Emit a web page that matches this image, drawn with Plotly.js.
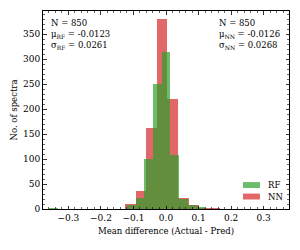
<!DOCTYPE html>
<html>
<head>
<meta charset="utf-8">
<script src="https://cdn.plot.ly/plotly-3.0.1.min.js"></script>
<style>html,body{margin:0;padding:0;background:#fff}#chart{width:300px;height:250px}</style>
</head>
<body>
<div id="chart"></div>
<script>
// RF histogram: bin centers and counts (bin width ~0.0267)
const rfCenters = [-0.3467, -0.1598, -0.1064, -0.0797, -0.0530, -0.0263, 0.0004, 0.0271, 0.0538, 0.0805, 0.1072];
const rfCounts  = [3, 1, 9, 22, 100, 250, 315, 108, 21, 9, 5];
const rfBinWidth = 0.0267;
// NN histogram: bin centers and counts (bin width ~0.0326)
const nnCenters = [-0.2403, -0.1425, -0.1099, -0.0773, -0.0447, -0.0121, 0.0205, 0.0531, 0.0857, 0.1183, 0.1509];
const nnCounts  = [1, 1, 11, 36, 163, 380, 220, 23, 8, 3, 2];
const nnBinWidth = 0.0326;
const seriesNames = ["RF", "NN"];
const statsRF = {n: 850, mu: "-0.0123", sigma: "0.0261"};
const statsNN = {n: 850, mu: "-0.0126", sigma: "0.0268"};

const rfColor = "rgba(44,160,44,0.7)";
const nnColor = "rgba(214,39,40,0.7)";
const font = {family: "DejaVu Serif", size: 8.5, color: "#000"};
const tickFont = {family: "DejaVu Serif", size: 9, color: "#000"};

const traces = [
  {type: "bar", name: seriesNames[1], x: nnCenters, y: nnCounts, width: nnBinWidth,
   marker: {color: nnColor, line: {width: 0}}},
  {type: "bar", name: seriesNames[0], x: rfCenters, y: rfCounts, width: rfBinWidth,
   marker: {color: rfColor, line: {width: 0}}}
];

const axisCommon = {
  showline: true, mirror: "ticks", linecolor: "#000", linewidth: 1,
  ticks: "inside", ticklen: 3.5, tickwidth: 0.8, tickcolor: "#000",
  showgrid: false, zeroline: false, tickfont: tickFont
};

// legend drawn as paper-positioned patches + labels
const legendItems = [
  {name: seriesNames[0], color: rfColor, y0: 0.106, y1: 0.136, ty: 0.121},
  {name: seriesNames[1], color: nnColor, y0: 0.048, y1: 0.078, ty: 0.063}
];

const layout = {
  width: 300, height: 250,
  margin: {l: 43, r: 11, t: 11, b: 41},
  paper_bgcolor: "#fff", plot_bgcolor: "#fff",
  font: font,
  barmode: "overlay", bargap: 0,
  showlegend: false,
  xaxis: Object.assign({}, axisCommon, {
    range: [-0.378, 0.378], dtick: 0.1, tick0: 0, tickformat: ".1f",
    minor: {dtick: 0.02, ticks: "inside", ticklen: 2, tickwidth: 0.6, tickcolor: "#000"},
    title: {text: "Mean difference (Actual - Pred)", font: font, standoff: 6}
  }),
  yaxis: Object.assign({}, axisCommon, {
    range: [0, 396], dtick: 50, tick0: 0,
    minor: {dtick: 10, ticks: "inside", ticklen: 2, tickwidth: 0.6, tickcolor: "#000"},
    title: {text: "No. of spectra", font: font, standoff: 4}
  }),
  shapes: legendItems.map(it => ({
    type: "rect", xref: "paper", yref: "paper", x0: 0.813, x1: 0.882, y0: it.y0, y1: it.y1,
    fillcolor: it.color, line: {width: 0}
  })),
  annotations: [
    {xref: "paper", yref: "paper", x: 0.025, y: 0.975, xanchor: "left", yanchor: "top", align: "left",
     showarrow: false, font: font,
     text: "N = " + statsRF.n + "<br>μ<sub>RF</sub> = " + statsRF.mu + "<br>σ<sub>RF</sub> = " + statsRF.sigma},
    {xref: "paper", yref: "paper", x: 0.972, y: 0.975, xanchor: "right", yanchor: "top", align: "left",
     showarrow: false, font: font,
     text: "N = " + statsNN.n + "<br>μ<sub>NN</sub> = " + statsNN.mu + "<br>σ<sub>NN</sub> = " + statsNN.sigma}
  ].concat(legendItems.map(it => ({
    xref: "paper", yref: "paper", x: 0.905, y: it.ty, xanchor: "left", yanchor: "middle",
    showarrow: false, font: font, text: it.name
  })))
};

Plotly.newPlot("chart", traces, layout, {staticPlot: true, displayModeBar: false});
</script>
</body>
</html>
